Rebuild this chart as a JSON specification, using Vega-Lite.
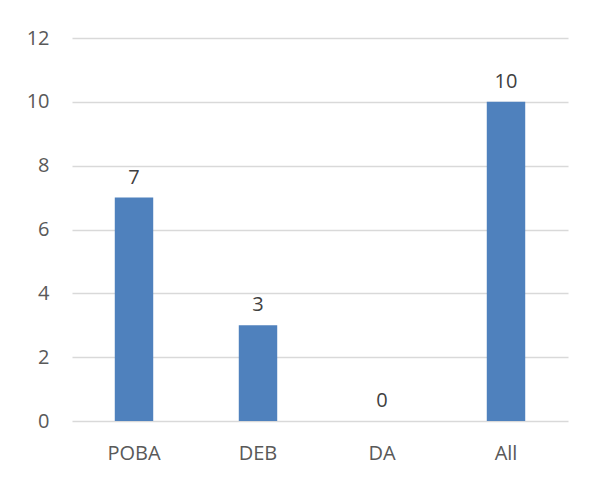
{
  "$schema": "https://vega.github.io/schema/vega-lite/v6.json",
  "autosize": "none",
  "width": 496,
  "height": 383,
  "padding": {"left": 72, "top": 38, "right": 21, "bottom": 56},
  "background": "white",
  "config": {
    "view": {"stroke": null},
    "font": "Open Sans"
  },
  "data": {
    "values": [
      {"category": "POBA", "count": 7},
      {"category": "DEB", "count": 3},
      {"category": "DA", "count": 0},
      {"category": "All", "count": 10}
    ]
  },
  "encoding": {
    "x": {
      "field": "category",
      "type": "nominal",
      "sort": null,
      "scale": {"paddingInner": 0.69, "paddingOuter": 0.345},
      "axis": {
        "title": null,
        "labelAngle": 0,
        "domain": false,
        "ticks": false,
        "labelPadding": 22,
        "labelFontSize": 20,
        "labelColor": "#595959",
        "labelFont": "Open Sans"
      }
    },
    "y": {
      "field": "count",
      "type": "quantitative",
      "scale": {"domain": [0, 12], "nice": false},
      "axis": {
        "title": null,
        "values": [0, 2, 4, 6, 8, 10, 12],
        "domain": false,
        "ticks": false,
        "labelPadding": 23,
        "labelFontSize": 20,
        "labelColor": "#595959",
        "labelFont": "Open Sans",
        "gridColor": "#d9d9d9",
        "gridWidth": 1.5
      }
    }
  },
  "layer": [
    {"mark": {"type": "bar", "color": "#4f81bd"}},
    {
      "mark": {
        "type": "text",
        "baseline": "alphabetic",
        "dy": -14,
        "fontSize": 20,
        "color": "#404040",
        "font": "Open Sans"
      },
      "encoding": {"text": {"field": "count", "type": "quantitative"}}
    }
  ]
}
